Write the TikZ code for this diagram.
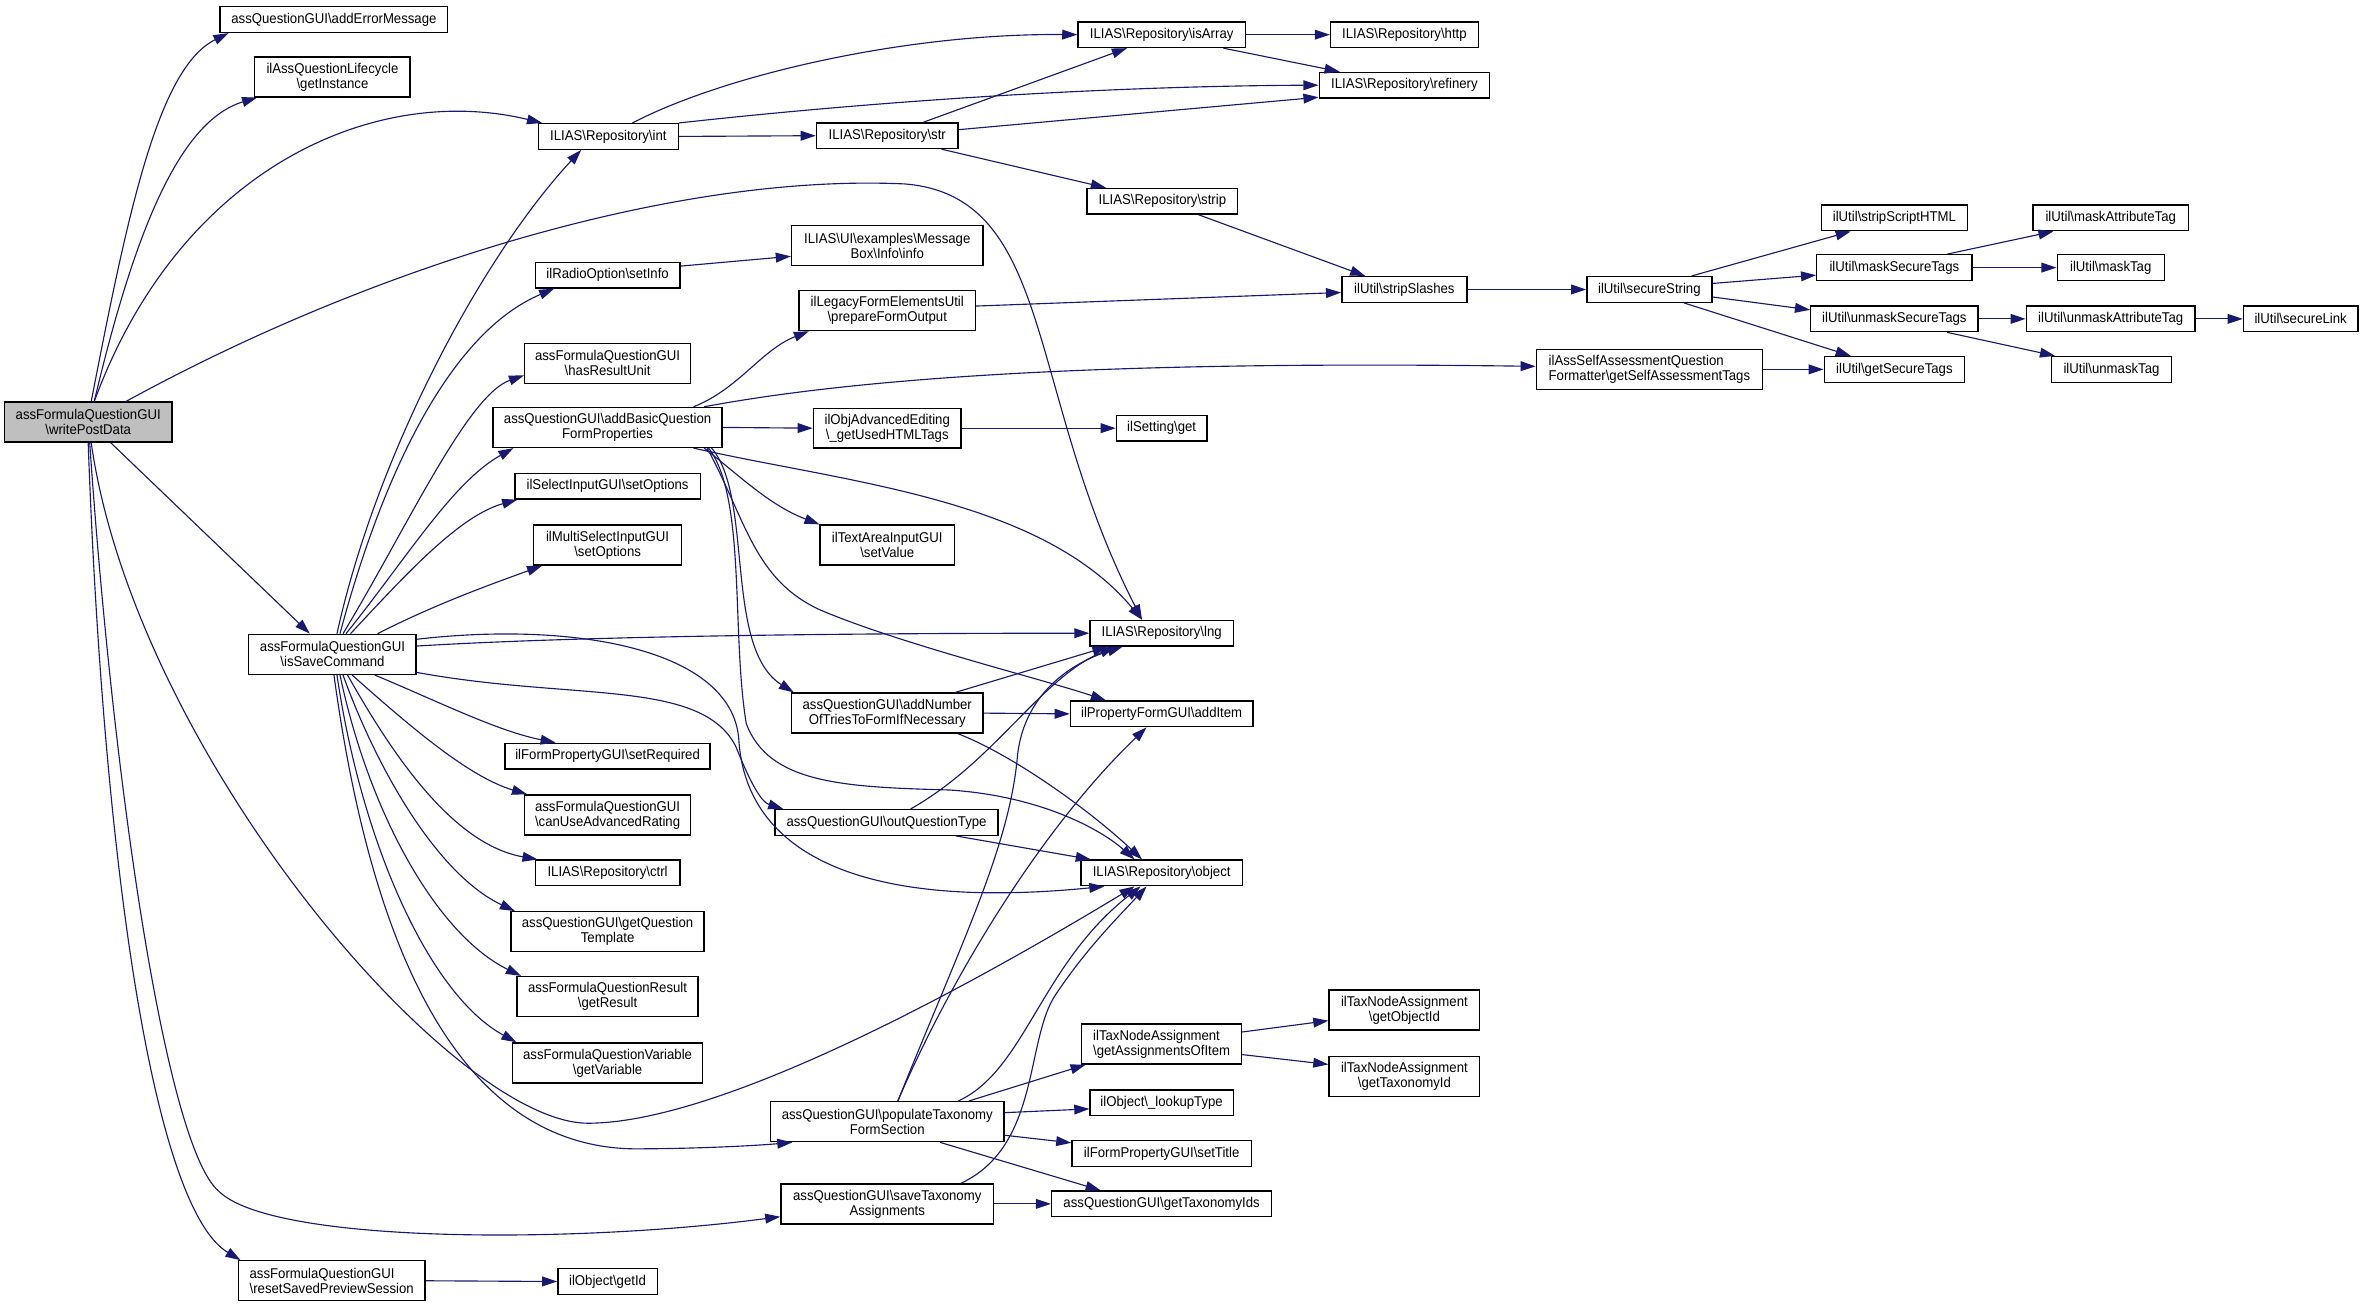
\documentclass[tikz,border=0pt]{standalone}
\usepackage{fontspec}
\setmainfont{Liberation Sans}[FakeStretch=0.93]
\usetikzlibrary{arrows.meta}
\definecolor{navy}{HTML}{191970}
\definecolor{boxgray}{HTML}{BFBFBF}
\newcommand{\bsl}{\textbackslash}
\begin{document}
\begin{tikzpicture}[x=1pt,y=-1pt,
  fn/.style={draw=black, fill=white, line width=0.9pt, inner sep=0pt, align=center,
             font=\fontsize{9.4}{10}\selectfont, minimum height=17pt},
  fn2/.style={fn, minimum height=26.5pt},
  conn/.style={draw=navy, line width=0.75pt, -{Triangle[length=10pt,width=6.5pt]}}]
\fill[white] (0,0) rectangle (1568,866.9);
\useasboundingbox (0,0) rectangle (1568,866.9);

% ---------- nodes ----------
\node[fn2, fill=boxgray, minimum width=111pt] (wpd) at (58.5,280) {assFormulaQuestionGUI\\\bsl writePostData};
\node[fn, minimum width=151pt] (aem) at (221.5,13) {assQuestionGUI\bsl addErrorMessage};
\node[fn2, minimum width=103pt] (gin) at (220.5,51) {ilAssQuestionLifecycle\\\bsl getInstance};
\node[fn2, minimum width=111pt] (isc) at (220.5,434) {assFormulaQuestionGUI\\\bsl isSaveCommand};
\node[fn2, minimum width=124pt, align=left] (rsp) at (220,849.5) {assFormulaQuestionGUI\\\bsl resetSavedPreviewSession};

\node[fn, minimum width=93pt] (int) at (403.5,90.5) {ILIAS\bsl Repository\bsl int};
\node[fn, minimum width=96pt] (sinf) at (403,182.5) {ilRadioOption\bsl setInfo};
\node[fn2, minimum width=110pt] (hru) at (403,241) {assFormulaQuestionGUI\\\bsl hasResultUnit};
\node[fn2, minimum width=152pt] (abq) at (403,283.5) {assQuestionGUI\bsl addBasicQuestion\\FormProperties};
\node[fn, minimum width=123pt] (selo) at (403,322.5) {ilSelectInputGUI\bsl setOptions};
\node[fn2, minimum width=98pt] (mslo) at (403,361.5) {ilMultiSelectInputGUI\\\bsl setOptions};
\node[fn, minimum width=136pt] (sreq) at (403,501.5) {ilFormPropertyGUI\bsl setRequired};
\node[fn2, minimum width=110pt] (cuar) at (403,540.5) {assFormulaQuestionGUI\\\bsl canUseAdvancedRating};
\node[fn, minimum width=96pt] (ctrl) at (403,579) {ILIAS\bsl Repository\bsl ctrl};
\node[fn2, minimum width=128pt] (gqt) at (403,618) {assQuestionGUI\bsl getQuestion\\Template};
\node[fn2, minimum width=120pt] (gres) at (403,661) {assFormulaQuestionResult\\\bsl getResult};
\node[fn2, minimum width=126pt] (gvar) at (403,705) {assFormulaQuestionVariable\\\bsl getVariable};
\node[fn, minimum width=66pt] (gid) at (403,850) {ilObject\bsl getId};

\node[fn, minimum width=94pt] (str) at (588.5,90) {ILIAS\bsl Repository\bsl str};
\node[fn2, minimum width=127pt] (mbox) at (588.5,163) {ILIAS\bsl UI\bsl examples\bsl Message\\Box\bsl Info\bsl info};
\node[fn2, minimum width=117pt] (pfo) at (588.5,206) {ilLegacyFormElementsUtil\\\bsl prepareFormOutput};
\node[fn2, minimum width=98pt] (guht) at (588.5,284) {ilObjAdvancedEditing\\\bsl \_getUsedHTMLTags};
\node[fn2, minimum width=89pt] (setv) at (588.5,361.5) {ilTextAreaInputGUI\\\bsl setValue};
\node[fn2, minimum width=127pt] (anot) at (588.5,473) {assQuestionGUI\bsl addNumber\\OfTriesToFormIfNecessary};
\node[fn, minimum width=148pt] (oqt) at (588,545.5) {assQuestionGUI\bsl outQuestionType};
\node[fn2, minimum width=155pt] (ptfs) at (588.5,744) {assQuestionGUI\bsl populateTaxonomy\\FormSection};
\node[fn2, minimum width=141pt] (sta) at (588.5,798.5) {assQuestionGUI\bsl saveTaxonomy\\Assignments};

\node[fn, minimum width=111pt] (isarr) at (770.5,23) {ILIAS\bsl Repository\bsl isArray};
\node[fn, minimum width=100pt] (strip) at (771,133.5) {ILIAS\bsl Repository\bsl strip};
\node[fn, minimum width=60pt] (sget) at (770.5,284) {ilSetting\bsl get};
\node[fn, minimum width=95pt] (lng) at (770.5,420) {ILIAS\bsl Repository\bsl lng};
\node[fn, minimum width=121pt] (aitem) at (770.5,473.5) {ilPropertyFormGUI\bsl addItem};
\node[fn, minimum width=107pt] (obj) at (770.5,579) {ILIAS\bsl Repository\bsl object};
\node[fn2, minimum width=106pt, align=left] (gaoi) at (770.5,692.5) {ilTaxNodeAssignment\\\bsl getAssignmentsOfItem};
\node[fn, minimum width=95pt] (lut) at (770.5,731.5) {ilObject\bsl \_lookupType};
\node[fn, minimum width=119pt] (stit) at (770.5,765) {ilFormPropertyGUI\bsl setTitle};
\node[fn, minimum width=146pt] (gtids) at (770.5,798.5) {assQuestionGUI\bsl getTaxonomyIds};

\node[fn, minimum width=98pt] (http) at (931.5,23) {ILIAS\bsl Repository\bsl http};
\node[fn, minimum width=113pt] (ref) at (931.5,56.5) {ILIAS\bsl Repository\bsl refinery};
\node[fn, minimum width=83pt] (sslash) at (931.5,192) {ilUtil\bsl stripSlashes};
\node[fn2, minimum width=100pt] (goid) at (931.5,670) {ilTaxNodeAssignment\\\bsl getObjectId};
\node[fn2, minimum width=100pt] (gtid) at (931.5,714) {ilTaxNodeAssignment\\\bsl getTaxonomyId};

\node[fn, minimum width=83pt] (sstr) at (1094,192) {ilUtil\bsl secureString};
\node[fn2, minimum width=150pt, align=left] (gsat) at (1094,245) {ilAssSelfAssessmentQuestion\\Formatter\bsl getSelfAssessmentTags};

\node[fn, minimum width=97pt] (ssh) at (1256.5,144.5) {ilUtil\bsl stripScriptHTML};
\node[fn, minimum width=103pt] (mst) at (1256.5,177.5) {ilUtil\bsl maskSecureTags};
\node[fn, minimum width=111pt] (umst) at (1256.5,211.5) {ilUtil\bsl unmaskSecureTags};
\node[fn, minimum width=93pt] (gst) at (1256.5,245) {ilUtil\bsl getSecureTags};

\node[fn, minimum width=103pt] (mat) at (1400,144.5) {ilUtil\bsl maskAttributeTag};
\node[fn, minimum width=71pt] (mtag) at (1400,177.5) {ilUtil\bsl maskTag};
\node[fn, minimum width=112pt] (umat) at (1400,211.5) {ilUtil\bsl unmaskAttributeTag};
\node[fn, minimum width=80pt] (umtag) at (1400.5,245) {ilUtil\bsl unmaskTag};
\node[fn, minimum width=76pt] (slink) at (1526,211.5) {ilUtil\bsl secureLink};

% ---------- connectors ----------
% from writePostData
\draw[conn] ([shift={(2,0)}]wpd.north) .. controls (85,140) and (105,45) .. ([shift={(6,0)}]aem.south west);
\draw[conn] ([shift={(4,0)}]wpd.north) .. controls (90,150) and (120,80) .. ([shift={(2,0)}]gin.south west);
\draw[conn] ([shift={(4,0)}]wpd.north) .. controls (120,110) and (250,55) .. ([shift={(3,0)}]int.north west);
\draw[conn] ([shift={(25,0)}]wpd.north) .. controls (250,175) and (450,115) .. (600,122) .. controls (700,130) and (680,260) .. ([shift={(-13,0)}]lng.north);
\draw[conn] ([shift={(15,0)}]wpd.south) -- ([shift={(-15,0)}]isc.north);
\draw[conn] ([shift={(2,0)}]wpd.south) .. controls (90,500) and (300,745) .. (390,745) .. controls (480,745) and (650,650) .. ([shift={(-18,0)}]obj.south);
\draw[conn] ([shift={(1,0)}]wpd.south) .. controls (75,520) and (110,760) .. (145,790) .. controls (180,825) and (380,825) .. ([shift={(0,8.5)}]sta.west);
\draw[conn] (wpd.south) .. controls (68,560) and (100,800) .. ([shift={(2,0)}]rsp.north west);

% from isSaveCommand
\draw[conn] ([shift={(3,0)}]isc.north) .. controls (250,300) and (320,170) .. ([shift={(-18,0)}]int.south);
\draw[conn] ([shift={(5,0)}]isc.north) .. controls (255,310) and (300,220) .. ([shift={(13,0)}]sinf.south west);
\draw[conn] ([shift={(7,0)}]isc.north) .. controls (270,350) and (310,262) .. ([shift={(0,8)}]hru.west);
\draw[conn] ([shift={(9,0)}]isc.north) .. controls (270,370) and (300,320) .. ([shift={(14,0)}]abq.south west);
\draw[conn] ([shift={(12,0)}]isc.north) .. controls (270,380) and (305,342) .. ([shift={(2,0)}]selo.south west);
\draw[conn] ([shift={(30,0)}]isc.north) .. controls (290,400) and (330,386) .. ([shift={(6,0)}]mslo.south west);
\draw[conn] ([shift={(0,-5.5)}]isc.east) .. controls (400,421) and (600,420) .. (lng.west);
\draw[conn] ([shift={(0,-10)}]isc.east) .. controls (380,412) and (485,430) .. (490,490) .. controls (494,560) and (560,605) .. ([shift={(-38,0)}]obj.south);
\draw[conn] ([shift={(0,12)}]isc.east) .. controls (380,465) and (465,450) .. (488,495) .. controls (498,520) and (505,532) .. ([shift={(6,0)}]oqt.north west);
\draw[conn] ([shift={(28,0)}]isc.south) .. controls (290,465) and (330,485) .. ([shift={(34,0)}]sreq.north west);
\draw[conn] ([shift={(13,0)}]isc.south) .. controls (270,480) and (310,515) .. ([shift={(2,0)}]cuar.north west);
\draw[conn] ([shift={(10,0)}]isc.south) .. controls (260,500) and (300,560) .. ([shift={(2,0)}]ctrl.north west);
\draw[conn] ([shift={(7,0)}]isc.south) .. controls (250,510) and (290,580) .. ([shift={(3,0)}]gqt.north west);
\draw[conn] ([shift={(5,0)}]isc.south) .. controls (245,540) and (290,620) .. ([shift={(3,0)}]gres.north west);
\draw[conn] ([shift={(3,0)}]isc.south) .. controls (240,560) and (285,660) .. ([shift={(3,0)}]gvar.north west);
\draw[conn] ([shift={(1,0)}]isc.south) .. controls (245,620) and (300,760) .. (420,762) .. controls (460,762) and (500,760) .. ([shift={(15,0)}]ptfs.south west);

\draw[conn] (rsp.east) -- (gid.west);

% Repository helpers
\draw[conn] ([shift={(16,0)}]int.north) .. controls (480,50) and (600,22) .. (isarr.west);
\draw[conn] (int.north east) .. controls (600,65) and (750,57) .. (ref.west);
\draw[conn] (int.east) -- (str.west);
\draw[conn] ([shift={(24,0)}]str.north) -- ([shift={(-23,0)}]isarr.south);
\draw[conn] ([shift={(0,-4)}]str.east) -- ([shift={(0,8)}]ref.west);
\draw[conn] ([shift={(36,0)}]str.south) -- ([shift={(13,0)}]strip.north west);
\draw[conn] (isarr.east) -- (http.west);
\draw[conn] ([shift={(41,0)}]isarr.south) -- ([shift={(14,0)}]ref.north west);
\draw[conn] ([shift={(24,0)}]strip.south) -- ([shift={(16,0)}]sslash.north west);
\draw[conn] (sslash.east) -- (sstr.west);
\draw[conn] ([shift={(28,0)}]sstr.north) -- ([shift={(20,0)}]ssh.south west);
\draw[conn] ([shift={(0,-4)}]sstr.east) -- ([shift={(0,5)}]mst.west);
\draw[conn] ([shift={(0,5)}]sstr.east) -- ([shift={(0,-6)}]umst.west);
\draw[conn] ([shift={(23,0)}]sstr.south) -- ([shift={(18,0)}]gst.north west);
\draw[conn] ([shift={(35,0)}]mst.north) -- ([shift={(14,0)}]mat.south west);
\draw[conn] (mst.east) -- (mtag.west);
\draw[conn] (umst.east) -- (umat.west);
\draw[conn] ([shift={(35,0)}]umst.south) -- ([shift={(3,0)}]umtag.north west);
\draw[conn] (umat.east) -- (slink.west);
\draw[conn] (gsat.east) -- (gst.west);
\draw[conn] ([shift={(0,-6)}]sinf.east) -- ([shift={(0,7)}]mbox.west);
\draw[conn] ([shift={(0,-3)}]pfo.east) -- ([shift={(0,2)}]sslash.west);
\draw[conn] (guht.east) -- (sget.west);

% from addBasicQuestionFormProperties
\draw[conn] ([shift={(57,0)}]abq.north) .. controls (490,258) and (505,232) .. ([shift={(7,0)}]pfo.south west);
\draw[conn] ([shift={(64,0)}]abq.north) .. controls (600,245) and (800,240) .. ([shift={(0,-2)}]gsat.west);
\draw[conn] (abq.east) -- (guht.west);
\draw[conn] ([shift={(57,0)}]abq.south) .. controls (560,320) and (690,330) .. ([shift={(-13,0)}]lng.north);
\draw[conn] ([shift={(64,0)}]abq.south) .. controls (490,315) and (510,335) .. (setv.north west);
\draw[conn] ([shift={(66,0)}]abq.south) .. controls (495,345) and (500,385) .. (545,405) .. controls (600,428) and (690,450) .. ([shift={(24,0)}]aitem.north west);
\draw[conn] ([shift={(69,0)}]abq.south) .. controls (500,330) and (480,430) .. ([shift={(2,0)}]anot.north west);
\draw[conn] ([shift={(67,0)}]abq.south) .. controls (495,330) and (485,420) .. (495,480) .. controls (510,520) and (560,522) .. (630,524) .. controls (690,528) and (730,550) .. ([shift={(-18,0)}]obj.north);

% addNumberOfTries / outQuestionType
\draw[conn] ([shift={(45,0)}]anot.north) -- ([shift={(12,0)}]lng.south west);
\draw[conn] (anot.east) -- (aitem.west);
\draw[conn] ([shift={(47,0)}]anot.south) .. controls (670,500) and (720,535) .. ([shift={(-13,0)}]obj.north);
\draw[conn] ([shift={(16,0)}]oqt.north) .. controls (660,505) and (690,450) .. ([shift={(17,0)}]lng.south west);
\draw[conn] ([shift={(46,0)}]oqt.south) -- ([shift={(7,0)}]obj.north west);

% populateTaxonomyFormSection
\draw[conn] ([shift={(7,0)}]ptfs.north) .. controls (640,620) and (670,560) .. (675,500) .. controls (680,460) and (710,440) .. ([shift={(22,0)}]lng.south west);
\draw[conn] ([shift={(7,0)}]ptfs.north) .. controls (630,650) and (690,550) .. ([shift={(-10,0)}]aitem.south);
\draw[conn] ([shift={(47,0)}]ptfs.north) .. controls (680,710) and (690,640) .. ([shift={(-14,0)}]obj.south);
\draw[conn] ([shift={(54,0)}]ptfs.north) -- ([shift={(3,0)}]gaoi.south west);
\draw[conn] ([shift={(0,-6)}]ptfs.east) -- ([shift={(0,4)}]lut.west);
\draw[conn] ([shift={(0,9)}]ptfs.east) -- ([shift={(0,-7)}]stit.west);
\draw[conn] ([shift={(35,0)}]ptfs.south) -- ([shift={(33,0)}]gtids.north west);

% saveTaxonomyAssignments
\draw[conn] ([shift={(49,0)}]sta.north) .. controls (690,760) and (680,690) .. (700,660) .. controls (720,630) and (740,610) .. ([shift={(-10,0)}]obj.south);
\draw[conn] (sta.east) -- (gtids.west);

% getAssignmentsOfItem
\draw[conn] ([shift={(0,-8)}]gaoi.east) -- ([shift={(0,7)}]goid.west);
\draw[conn] ([shift={(0,7)}]gaoi.east) -- ([shift={(0,-8)}]gtid.west);
\end{tikzpicture}
\end{document}
